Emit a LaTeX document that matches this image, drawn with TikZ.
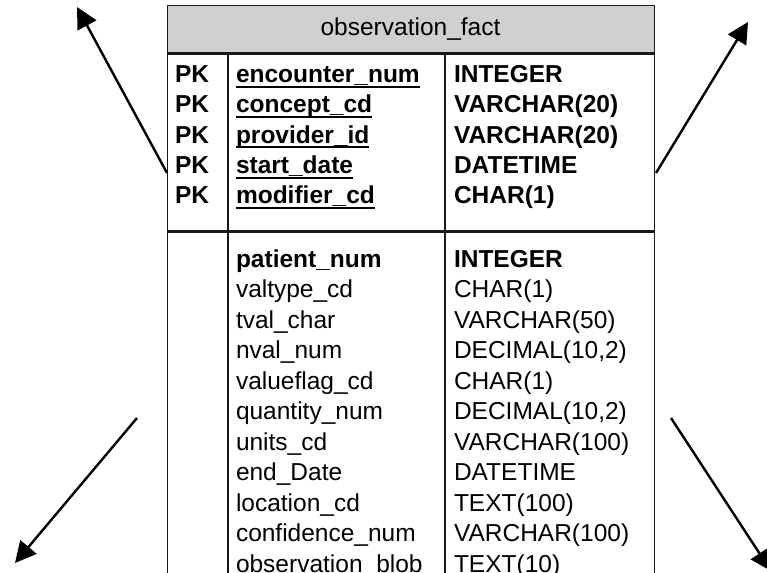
\documentclass[tikz,border=0pt]{standalone}
\usepackage{fontspec}
\setmainfont{Liberation Sans}
\usetikzlibrary{arrows.meta}

\definecolor{headgray}{RGB}{208,208,208}

% bold key name with a solid underline beneath it
\newsavebox\keynamebox
\newcommand\keyname[1]{\sbox\keynamebox{#1}\rlap{\rule[-5.5pt]{\wd\keynamebox}{2pt}}\usebox\keynamebox}

\tikzset{
  x=1pt, y=-1pt,
  grid/.style={line width=1.3pt, draw=black!90},
  cell/.style={anchor=base west, inner sep=0pt, outer sep=0pt,
               font=\fontsize{24.5}{29}\selectfont},
  keycell/.style={cell, font=\fontsize{24.5}{29}\selectfont\bfseries},
  link/.style={line width=2.4pt, draw=black,
               -{Triangle[length=21pt,width=21pt]}},
}

\begin{document}
\begin{tikzpicture}
  \path[use as bounding box, clip] (0,0) rectangle (767,572);

  % table frame: header, key section, attribute section
  \node[grid, fill=headgray, minimum width=487pt, minimum height=47pt,
        anchor=north west, inner sep=0pt] (hdr) at (167,5) {};
  \node[cell, anchor=base] (title) at (410.5,36) {observation\_fact};
  \node[grid, minimum width=487pt, minimum height=177pt,
        anchor=north west, inner sep=0pt] (keys) at (hdr.south west) {};
  \node[grid, minimum width=487pt, minimum height=380pt,
        anchor=north west, inner sep=0pt] (attrs) at (keys.south west) {};

  % column dividers
  \coordinate (colA) at (228,0);
  \coordinate (colB) at (445,0);
  \draw[grid] (hdr.south west -| colA) -- (attrs.south west -| colA);
  \draw[grid] (hdr.south west -| colB) -- (attrs.south west -| colB);

  % primary key rows
  \foreach \i/\n/\t in {0/encounter\_num/INTEGER,
                        1/concept\_cd/VARCHAR(20),
                        2/provider\_id/VARCHAR(20),
                        3/start\_date/DATETIME,
                        4/modifier\_cd/CHAR(1)}{
    \node[keycell] (pk\i) at (175, 83+30*\i) {PK};
    \node[keycell] (kn\i) at (236, 83+30*\i) {\keyname{\n}};
    \node[keycell] (kt\i) at (454, 83+30*\i) {\t};
  }

  % attribute rows
  \node[keycell] (an0) at (236,267) {patient\_num};
  \node[keycell] (at0) at (454,267) {INTEGER};
  \foreach \i/\n/\t in {1/valtype\_cd/CHAR(1),
                        2/tval\_char/VARCHAR(50),
                        3/nval\_num/{DECIMAL(10,2)},
                        4/valueflag\_cd/CHAR(1),
                        5/quantity\_num/{DECIMAL(10,2)},
                        6/units\_cd/VARCHAR(100),
                        7/end\_Date/DATETIME,
                        8/location\_cd/TEXT(100),
                        9/confidence\_num/VARCHAR(100),
                        10/observation\_blob/TEXT(10)}{
    \node[cell] (an\i) at (236, 267+30.5*\i) {\n};
    \node[cell] (at\i) at (454, 267+30.5*\i) {\t};
  }

  % relationship arrows
  \coordinate (tlStart) at (hdr.west |- 0,173);
  \coordinate (trStart) at (656,173);
  \coordinate (tlEnd) at (77,7);
  \coordinate (trEnd) at (748,22);
  \coordinate (blStart) at (137,418);
  \coordinate (blEnd) at (15,563);
  \coordinate (brStart) at (671,418);
  \coordinate (brEnd) at (771,571);
  \draw[link] (tlStart) -- (tlEnd);
  \draw[link] (trStart) -- (trEnd);
  \draw[link] (blStart) -- (blEnd);
  \draw[link] (brStart) -- (brEnd);
\end{tikzpicture}
\end{document}
